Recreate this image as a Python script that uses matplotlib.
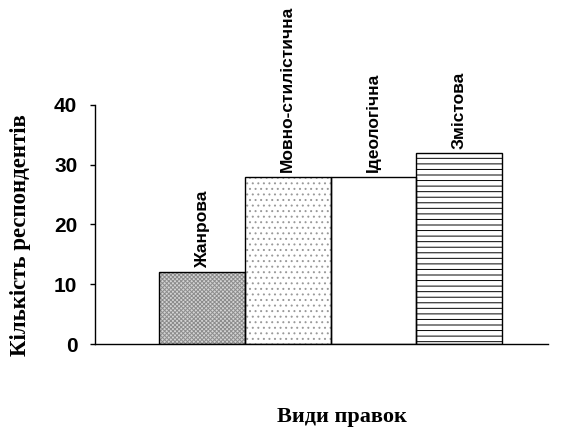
import matplotlib.pyplot as plt

categories = ['Жанрова', 'Мовно-стилістична', 'Ідеологічна', 'Змістова']
counts = [12, 28, 28, 32]
hatches = ['xxxxxxxx', '...', '', '---']
hatch_colors = ['#8c8c8c', '#9a9a9a', 'k', 'k']
face_colors = ['#d4d4d4', 'w', 'w', 'w']

yticks = [0, 10, 20, 30, 40]

plt.rcParams['hatch.linewidth'] = 0.7

fig = plt.figure(figsize=(5.64, 4.30), dpi=100, facecolor='w')
ax = fig.add_axes([0.168, 0.2, 0.803, 0.556])

xs = list(range(len(categories)))

# fill with hatch first, then draw black outlines on top
for x, v, h, hc, fc in zip(xs, counts, hatches, hatch_colors, face_colors):
    ax.bar(x, v, width=1.0, color=fc, hatch=h, edgecolor=hc, linewidth=0)
ax.bar(xs, counts, width=1.0, fill=False, edgecolor='k', linewidth=1.0)

for x, v, name in zip(xs, counts, categories):
    ax.annotate(name, (x, v), xytext=(0, 3), textcoords='offset points',
                rotation=90, ha='center', va='bottom',
                fontsize=12.5, fontweight='bold', family='Liberation Sans')

ax.set_xlim(-1.256, 4.035)
ax.set_ylim(0, 40)
ax.set_yticks(yticks)
ax.set_yticklabels([str(t) for t in yticks], fontsize=15, fontweight='bold',
                   family='Liberation Sans')
ax.set_xticks([])
ax.tick_params(axis='y', direction='out', length=3.6, width=1, pad=9)

for s in ('top', 'right'):
    ax.spines[s].set_visible(False)
ax.spines['left'].set_linewidth(1)
ax.spines['bottom'].set_linewidth(1)

fig.text(0.037, 0.453, 'Кількість респондентів', rotation=90, ha='center', va='center',
         fontsize=16.5, fontweight='bold', family='Liberation Serif')
fig.text(0.606, 0.019, 'Види правок', ha='center', va='baseline',
         fontsize=16, fontweight='bold', family='Liberation Serif')

fig.savefig('out.png', dpi=100)
